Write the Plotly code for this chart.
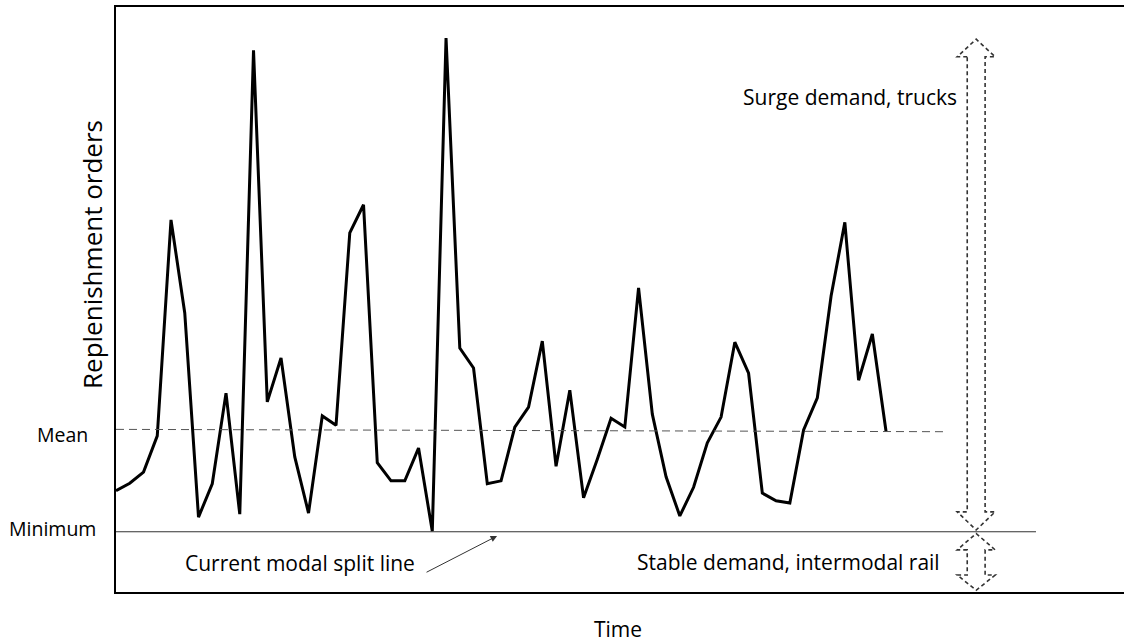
import plotly.graph_objects as go

# ---- data ----
periods = list(range(57))
orders = [17.3, 18.6, 20.5, 26.7, 63.6, 47.7, 12.8, 18.5, 34.0, 13.3,
          92.6, 32.5, 40.0, 23.1, 13.5, 30.1, 28.5, 61.4, 66.2, 22.1,
          19.0, 19.0, 24.6, 10.4, 94.7, 41.7, 38.3, 18.5, 19.0, 28.2,
          31.6, 42.9, 21.5, 34.5, 16.1, 22.7, 29.7, 28.2, 52.0, 30.4,
          19.7, 13.0, 17.9, 25.5, 29.9, 42.7, 37.4, 16.9, 15.6, 15.2,
          27.7, 33.2, 50.6, 63.2, 36.2, 44.1, 27.4]
mean_level = [27.8, 27.4]      # dashed mean line (start, end)
minimum_level = 10.3           # current modal split line

X_MAX = 73.3
Y_MAX = 100

fig = go.Figure()
fig.add_trace(go.Scatter(x=periods, y=orders, mode="lines",
                         line=dict(color="black", width=3), showlegend=False,
                         hoverinfo="skip"))

FONT = "Open Sans"

# mean dashed line
fig.add_shape(type="line", xref="x", yref="y", x0=0, x1=60.3,
              y0=mean_level[0], y1=mean_level[1],
              line=dict(color="#555555", width=1, dash="8px,5px"))
# minimum line
fig.add_shape(type="line", xref="x", yref="y", x0=0, x1=66.9,
              y0=minimum_level, y1=minimum_level,
              line=dict(color="#333333", width=1))


def double_arrow(cx, hs, hh, tip_top, base_top, base_bot, tip_bot):
    xl, xr = cx - hs, cx + hs
    hl, hr = cx - hh, cx + hh
    return (f"M {xl},{base_top} L {hl},{base_top} L {cx},{tip_top} L {hr},{base_top} "
            f"L {xr},{base_top} L {xr},{base_bot} L {hr},{base_bot} L {cx},{tip_bot} "
            f"L {hl},{base_bot} L {xl},{base_bot} Z")


arrow_cx = 62.55
for geom in [(94.5, 91.5, 13.7, 10.6), (10.0, 7.2, 2.9, 0.3)]:
    fig.add_shape(type="path", xref="x", yref="y",
                  path=double_arrow(arrow_cx, 0.65, 1.38, *geom),
                  line=dict(color="#333333", width=1.6, dash="4px,3px"))

ann_font = dict(family=FONT, size=21, color="black")
side_font = dict(family=FONT, size=19.5, color="black")
fig.add_annotation(xref="paper", yref="paper", x=(90 - 116) / 1008, y=(592 - 434) / 585,
                   text="Mean", showarrow=False, xanchor="right", yanchor="middle",
                   font=side_font)
fig.add_annotation(xref="paper", yref="paper", x=(98 - 116) / 1008, y=(592 - 528) / 585,
                   text="Minimum", showarrow=False, xanchor="right", yanchor="middle",
                   font=side_font)
fig.add_annotation(xref="paper", yref="paper", x=(92 - 116) / 1008, y=(592 - 255) / 585,
                   text="Replenishment orders", showarrow=False, textangle=-90,
                   xanchor="center", yanchor="middle",
                   font=dict(family=FONT, size=26, color="black"))
fig.add_annotation(xref="paper", yref="paper", x=(618 - 116) / 1008, y=(592 - 629) / 585,
                   text="Time", showarrow=False, xanchor="center", yanchor="middle",
                   font=dict(family=FONT, size=21, color="black"))
fig.add_annotation(xref="paper", yref="paper", x=(959 - 116) / 1008, y=(592 - 97) / 585,
                   text="Surge demand, trucks", showarrow=False, xanchor="right",
                   yanchor="middle", font=ann_font)
fig.add_annotation(xref="paper", yref="paper", x=(635 - 116) / 1008, y=(592 - 562) / 585,
                   text="Stable demand, intermodal rail", showarrow=False, xanchor="left",
                   yanchor="middle", font=ann_font)
fig.add_annotation(xref="paper", yref="paper", x=(417 - 116) / 1008, y=(592 - 563) / 585,
                   text="Current modal split line", showarrow=False, xanchor="right",
                   yanchor="middle", font=ann_font)
# pointer arrow to the modal split line
fig.add_annotation(xref="x", yref="y", x=(497 - 116) / 13.75, y=(592 - 536) / 5.85,
                   ax=-72, ay=37, axref="pixel", ayref="pixel", text="",
                   showarrow=True, arrowhead=2, arrowsize=1.3, arrowwidth=1,
                   arrowcolor="#333333", standoff=0)

fig.update_xaxes(range=[0, X_MAX], showgrid=False, zeroline=False, showticklabels=False,
                 ticks="", showline=True, linecolor="black", linewidth=2, mirror=True)
fig.update_yaxes(range=[0, Y_MAX], showgrid=False, zeroline=False, showticklabels=False,
                 ticks="", showline=True, linecolor="black", linewidth=2, mirror=False)

fig.update_layout(width=1124, height=643, margin=dict(l=116, r=0, t=7, b=51),
                  plot_bgcolor="white", paper_bgcolor="white",
                  font=dict(family=FONT))

fig.write_html("out.html", config={"displayModeBar": False},
               post_script="document.body.style.margin='0';document.body.style.overflow='hidden';")
